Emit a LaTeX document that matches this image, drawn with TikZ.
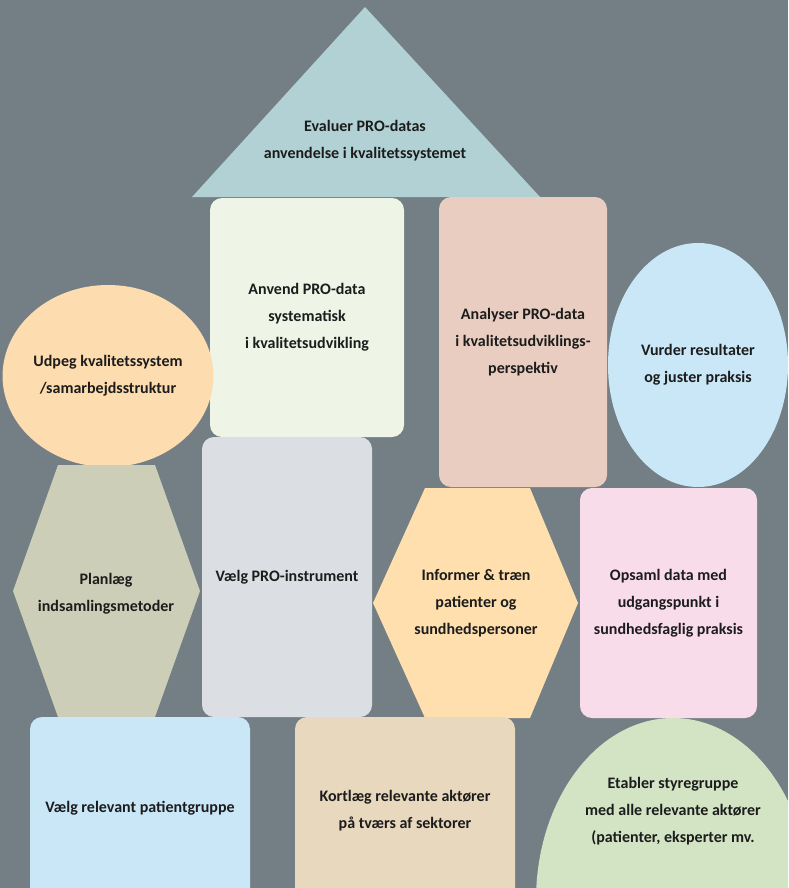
\documentclass[tikz,border=0pt]{standalone}
\usepackage{fontspec}
\setmainfont{Carlito}
\usetikzlibrary{shapes.geometric}

\definecolor{bggray}{HTML}{737F84}
\definecolor{trifill}{HTML}{B1D1D4}
\definecolor{anvendfill}{HTML}{EEF5E7}
\definecolor{analyserfill}{HTML}{E8CDC0}
\definecolor{vurderfill}{HTML}{C9E7F6}
\definecolor{udpegfill}{HTML}{FDDCAF}
\definecolor{planfill}{HTML}{CDCEB7}
\definecolor{instrfill}{HTML}{DBDFE4}
\definecolor{informfill}{HTML}{FEDFAD}
\definecolor{opsamlfill}{HTML}{F9DCEA}
\definecolor{patientfill}{HTML}{C9E7F7}
\definecolor{kortfill}{HTML}{E8D8BE}
\definecolor{etablerfill}{HTML}{D2E4C4}
\definecolor{inktext}{HTML}{1C1C1C}

\tikzset{
  label text/.style = {align = center, text = inktext, font = \bfseries\fontsize{16}{27}\selectfont},
  box/.style = {label text, rectangle, rounded corners = 12pt, inner sep = 0pt, outer sep = 0pt},
  oval/.style = {label text, ellipse, inner sep = 0pt, outer sep = 0pt}
}

\begin{document}
\begin{tikzpicture}[x = 1pt, y = -1pt]
        \useasboundingbox (0, 0) rectangle (788, 888);
        \fill[bggray] (0, 0) rectangle (788, 888);

        % roof
        \fill[trifill] (365, 7) -- (540, 197) -- (192, 197) -- cycle;
        \node[label text] (evaluer) at (365, 141) {Evaluer PRO-datas\\anvendelse i kvalitetssystemet};

        % upper row
        \node[box, fill = anvendfill, minimum width = 194pt, minimum height = 239pt] (anvend) at (307, 317.5)
          {Anvend PRO-data\\systematisk\\i kvalitetsudvikling};
        \node[box, fill = analyserfill, minimum width = 168pt, minimum height = 290pt] (analyser) at (523, 342)
          {Analyser PRO-data\\i kvalitetsudviklings-\\perspektiv};
        \node[oval, fill = vurderfill, minimum width = 180pt, minimum height = 244pt] (vurder) at (698, 365)
          {Vurder resultater\\og juster praksis};
        \node[oval, fill = udpegfill, minimum width = 200pt, minimum height = 182pt] (udpeg) at (108, 376)
          {Udpeg kvalitetssystem\\/samarbejdsstruktur};

        % middle row
        \fill[planfill] (58, 465) -- (155, 465) -- (200, 591) -- (155, 717) -- (58, 717) -- (13, 591) -- cycle;
        \node[label text] (planlaeg) at (106, 594) {Planlæg\\indsamlingsmetoder};
        \node[box, fill = instrfill, minimum width = 170pt, minimum height = 280pt] (instrument) at (287, 577)
          {Vælg PRO-instrument};
        \fill[informfill] (425, 488) -- (530, 488) -- (578, 603) -- (530, 718) -- (425, 718) -- (373, 603) -- cycle;
        \node[label text] (informer) at (476, 603) {Informer \& træn\\patienter og\\sundhedspersoner};
        \node[box, fill = opsamlfill, minimum width = 177pt, minimum height = 230pt] (opsaml) at (668.5, 603)
          {Opsaml data med\\udgangspunkt i\\sundhedsfaglig praksis};

        % bottom row
        \node[box, fill = patientfill, minimum width = 220pt, minimum height = 200pt] (patient) at (140, 817) {};
        \node[label text] (patienttext) at (140, 808) {Vælg relevant patientgruppe};
        \node[box, fill = kortfill, minimum width = 220pt, minimum height = 200pt] (kortlaeg) at (405, 817) {};
        \node[label text] (kortlaegtext) at (405, 811) {Kortlæg relevante aktører\\på tværs af sektorer};
        \begin{scope}
          \clip (0, 0) rectangle (788, 888);
          \fill[etablerfill] (673, 900) ellipse (137 and 182);
        \end{scope}
        \node[label text] (etabler) at (673, 811) {Etabler styregruppe\\med alle relevante aktører\\(patienter, eksperter mv.};
      \end{tikzpicture}
\end{document}
